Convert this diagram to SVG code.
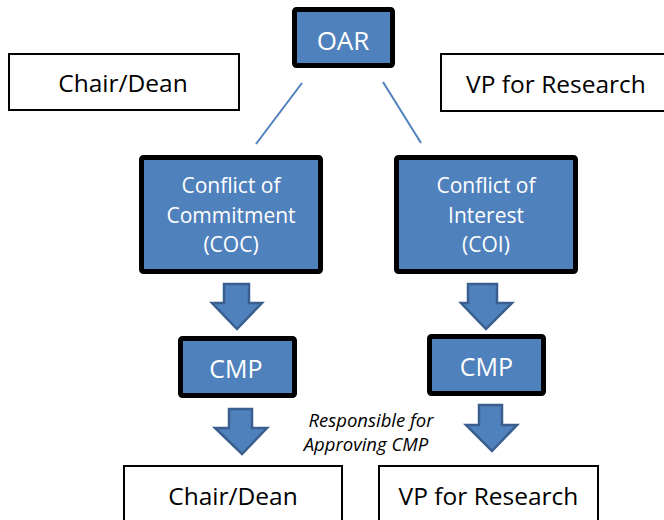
<svg xmlns="http://www.w3.org/2000/svg" width="664" height="520" viewBox="0 0 664 520">
<style>
.blue{fill:#4F81BD;stroke:#000;stroke-width:5;}
.white{fill:#fff;stroke:#000;stroke-width:2;}
.arrow{fill:#4F81BD;stroke:#3A5F8E;stroke-width:2.5;stroke-linejoin:miter;}
.line{stroke:#4F81BD;stroke-width:2;fill:none;}
text{font-family:"Open Sans","Noto Sans","Liberation Sans",sans-serif;text-anchor:middle;}
.wt{fill:#fff;}
.bt{fill:#000;}
.big{font-size:24.5px;}
.mid{font-size:21px;}
</style>
<rect width="664" height="520" fill="#fff"/>
<g id="connectors">
<line class="line" x1="302" y1="83" x2="256" y2="144"/>
<line class="line" x1="383" y1="82" x2="421" y2="143"/>
<path class="arrow" d="M224,284 H249 V303 H262 L237,329 L212,303 H224 Z"/>
<path class="arrow" d="M468,284 H497 V303 H512 L486,329 L461,303 H468 Z"/>
<path class="arrow" d="M229,409 H252 V428 H267 L242,454 L215,428 H229 Z"/>
<path class="arrow" d="M479,405 H502 V425 H517 L492,451 L466,425 H479 Z"/>
</g>
<g id="oar">
<rect class="blue" x="294.5" y="9.5" width="98" height="56" rx="2"/>
<text class="wt" x="343" y="50" font-size="26">OAR</text>
</g>
<g id="chair-top">
<rect class="white" x="9" y="54" width="230" height="56"/>
<text class="bt big" x="123" y="92">Chair/Dean</text>
</g>
<g id="vp-top">
<rect class="white" x="441" y="54" width="232" height="57"/>
<text class="bt big" x="556" y="93">VP for Research</text>
</g>
<g id="coc">
<rect class="blue" x="141.5" y="157.5" width="179" height="114" rx="2"/>
<text class="wt mid" x="231" y="193">Conflict of</text>
<text class="wt mid" x="231" y="223">Commitment</text>
<text class="wt mid" x="231" y="252">(COC)</text>
</g>
<g id="coi">
<rect class="blue" x="396.5" y="157.5" width="179" height="114" rx="2"/>
<text class="wt mid" x="486" y="193">Conflict of</text>
<text class="wt mid" x="486" y="223">Interest</text>
<text class="wt mid" x="486" y="252">(COI)</text>
</g>
<g id="cmp-left">
<rect class="blue" x="180.5" y="338.5" width="114" height="57" rx="2"/>
<text class="wt" x="236" y="378" font-size="25">CMP</text>
</g>
<g id="cmp-right">
<rect class="blue" x="429.5" y="336.5" width="114" height="57" rx="2"/>
<text class="wt" x="486.5" y="376" font-size="25">CMP</text>
</g>
<g id="label">
<text class="bt" x="371" y="427" font-size="18.5" font-style="italic">Responsible for</text>
<text class="bt" x="366" y="451" font-size="18.5" font-style="italic">Approving CMP</text>
</g>
<g id="chair-bottom">
<rect class="white" x="124" y="466" width="218" height="60"/>
<text class="bt big" x="233" y="505">Chair/Dean</text>
</g>
<g id="vp-bottom">
<rect class="white" x="379" y="466" width="219" height="60"/>
<text class="bt big" x="488.5" y="505">VP for Research</text>
</g>
</svg>
